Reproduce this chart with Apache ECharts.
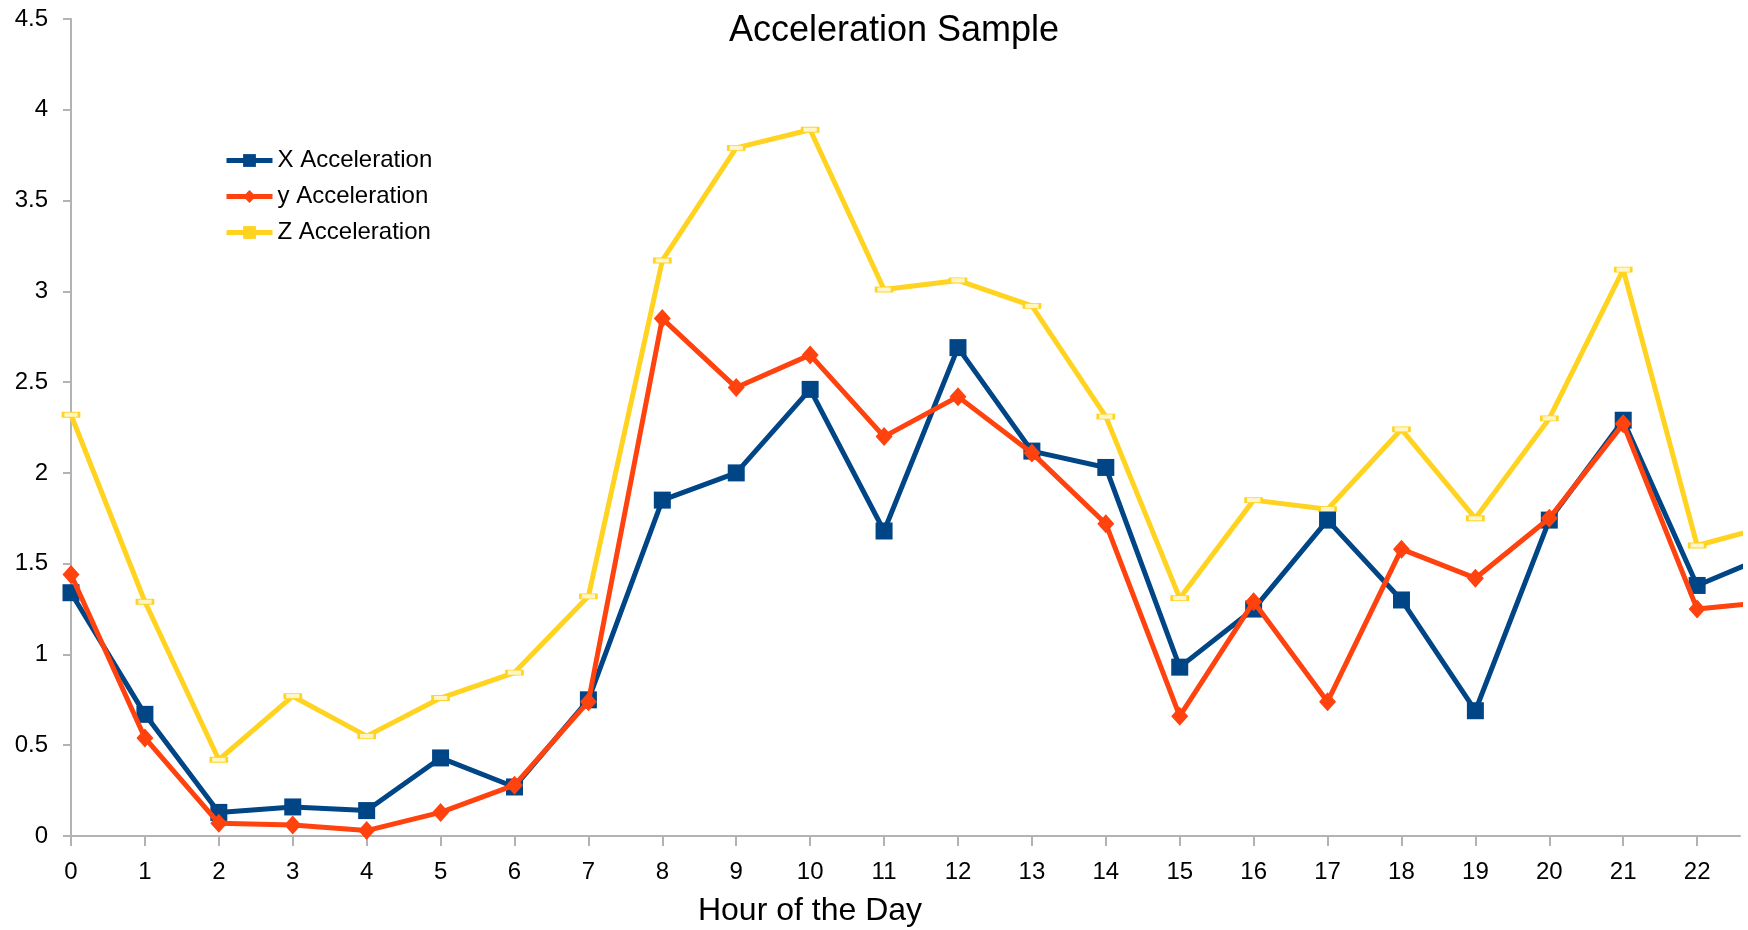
<!DOCTYPE html>
<html>
<head>
<meta charset="utf-8">
<script src="https://cdn.jsdelivr.net/npm/echarts@6/dist/echarts.min.js"></script>
<style>
html,body{margin:0;padding:0;background:#fff;}
#chart{width:1748px;height:930px;}
</style>
</head>
<body>
<div id="chart"></div>
<script>
// Hours (23 lies just beyond the visible right edge; the line runs off the plot)
const hours = [0,1,2,3,4,5,6,7,8,9,10,11,12,13,14,15,16,17,18,19,20,21,22,23];
const xTickLabels = [0,1,2,3,4,5,6,7,8,9,10,11,12,13,14,15,16,17,18,19,20,21,22];
const yTickLabels = [0,0.5,1,1.5,2,2.5,3,3.5,4,4.5];

const seriesNames = ['X Acceleration', 'y Acceleration', 'Z Acceleration'];
const xAcc = [1.34,0.67,0.13,0.16,0.14,0.43,0.27,0.75,1.85,2.00,2.46,1.68,2.69,2.12,2.03,0.93,1.25,1.74,1.30,0.69,1.74,2.29,1.38,1.55];
const yAcc = [1.44,0.54,0.07,0.06,0.03,0.13,0.28,0.74,2.85,2.47,2.65,2.20,2.42,2.11,1.72,0.66,1.29,0.74,1.58,1.42,1.75,2.27,1.25,1.29];
const zAcc = [2.32,1.29,0.42,0.77,0.55,0.76,0.90,1.32,3.17,3.79,3.89,3.01,3.06,2.92,2.31,1.31,1.85,1.80,2.24,1.75,2.30,3.12,1.60,1.71];

const pairs = arr => hours.map((h, i) => [h, arr[i]]);

const chart = echarts.init(document.getElementById('chart'), null, {renderer: 'canvas'});
const font = 'Liberation Sans, Arial, sans-serif';

chart.setOption({
  animation: false,
  backgroundColor: '#ffffff',
  textStyle: {fontFamily: font},
  title: [
    {
      text: 'Acceleration Sample',
      left: 889, top: 8, textAlign: 'center',
      textStyle: {fontFamily: font, fontSize: 36, fontWeight: 'normal', color: '#000'}
    },
    {
      text: 'Hour of the Day',
      left: 805, top: 890, textAlign: 'center',
      textStyle: {fontFamily: font, fontSize: 32, fontWeight: 'normal', color: '#000'}
    }
  ],
  legend: {
    orient: 'vertical',
    left: 219, top: 143,
    itemWidth: 46, itemHeight: 16, itemGap: 11,
    lineStyle: {width: 5},
    data: [
      {name: seriesNames[0]},
      {name: seriesNames[1]},
      {name: seriesNames[2], itemStyle: {color: '#ffd320', borderWidth: 0}}
    ],
    textStyle: {fontFamily: font, fontSize: 24, color: '#000', lineHeight: 25}
  },
  grid: {left: 71, right: 8, top: 19, bottom: 94, containLabel: false},
  xAxis: {
    type: 'value',
    min: 0, max: 22.58, interval: 1,
    axisLine: {show: true, lineStyle: {color: '#b3b3b3', width: 2}},
    axisTick: {show: true, length: 10, lineStyle: {color: '#b3b3b3', width: 2}, customValues: xTickLabels},
    axisLabel: {margin: 24, fontSize: 24, color: '#000', fontFamily: font, customValues: xTickLabels},
    splitLine: {show: false}
  },
  yAxis: {
    type: 'value',
    min: 0, max: 4.5, interval: 0.5,
    axisLine: {show: true, lineStyle: {color: '#b3b3b3', width: 2}},
    axisTick: {show: true, length: 8, lineStyle: {color: '#b3b3b3', width: 2}, customValues: yTickLabels},
    axisLabel: {margin: 23, fontSize: 24, color: '#000', fontFamily: font, customValues: yTickLabels},
    splitLine: {show: false}
  },
  series: [
    {
      name: seriesNames[0], type: 'line', data: pairs(xAcc),
      color: '#004586',
      symbol: 'rect', symbolSize: 17,
      lineStyle: {width: 5, color: '#004586'},
      itemStyle: {color: '#004586'},
      clip: true, z: 3
    },
    {
      name: seriesNames[1], type: 'line', data: pairs(yAcc),
      color: '#ff420e',
      symbol: 'diamond', symbolSize: [17, 19],
      lineStyle: {width: 5, color: '#ff420e'},
      itemStyle: {color: '#ff420e'},
      clip: true, z: 4
    },
    {
      name: seriesNames[2], type: 'line', data: pairs(zAcc),
      color: '#ffd320',
      symbol: 'rect', symbolSize: [16, 5],
      lineStyle: {width: 5, color: '#ffd320'},
      itemStyle: {color: '#fff6c8', borderColor: '#ffd320', borderWidth: 1.5},
      clip: true, z: 2
    }
  ]
});
</script>
</body>
</html>
